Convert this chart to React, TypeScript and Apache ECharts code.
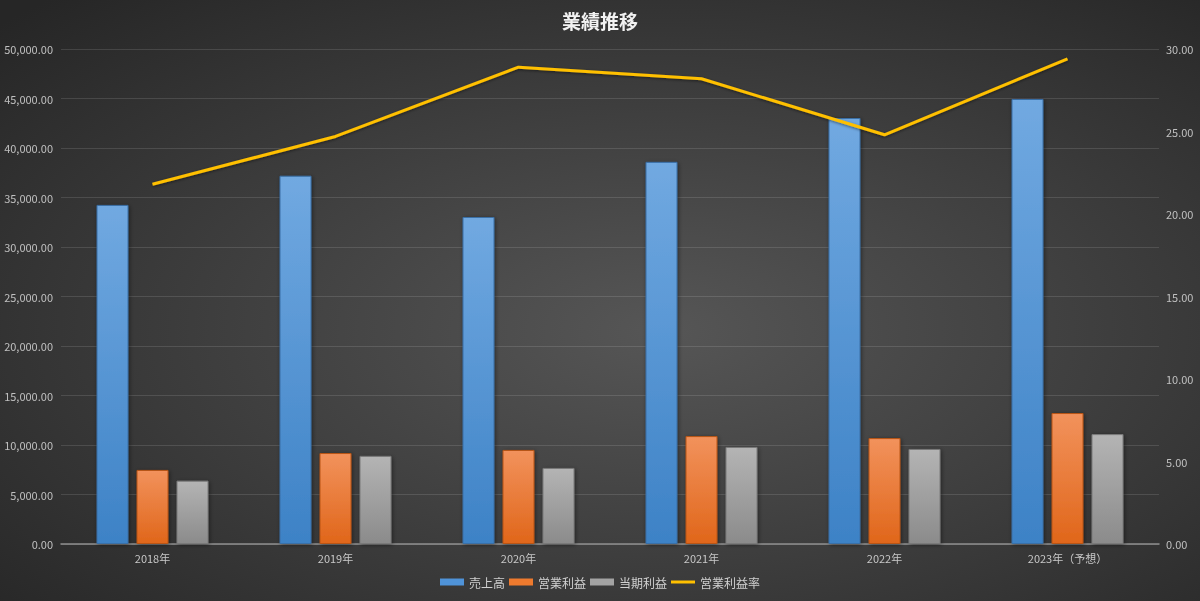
import React, { useEffect, useRef } from "react";
import * as echarts from "echarts";

const categories = ["2018年", "2019年", "2020年", "2021年", "2022年", "2023年（予想）"];
const sales = [34250, 37200, 33030, 38600, 43030, 44950];
const operatingProfit = [7480, 9190, 9500, 10900, 10700, 13230];
const netProfit = [6400, 8900, 7680, 9800, 9600, 11100];
const operatingMargin = [21.8, 24.7, 28.9, 28.2, 24.8, 29.4];

const FONT = "'Noto Sans CJK JP', 'Noto Sans', sans-serif";

function grad(top: string, bottom: string) {
  return new echarts.graphic.LinearGradient(0, 0, 0, 1, [
    { offset: 0, color: top },
    { offset: 1, color: bottom },
  ]);
}

export default function App() {
  const ref = useRef<HTMLDivElement>(null);
  useEffect(() => {
    if (!ref.current) return;
    const chart = echarts.init(ref.current, undefined, { renderer: "svg" });
    const barBase = {
      type: "bar" as const,
      barWidth: 32,
      barGap: "25%",
    };
    const legendRect = (name: string, color: string) => ({
      name,
      icon: "rect",
      itemStyle: { color, borderWidth: 0, shadowBlur: 0, shadowColor: "transparent" },
    });
    chart.setOption({
      animation: false,
      backgroundColor: new echarts.graphic.RadialGradient(0.55, 0.55, 0.75, [
        { offset: 0, color: "#565656" },
        { offset: 1, color: "#262626" },
      ]),
      title: {
        text: "業績推移",
        left: "center",
        top: 6,
        textStyle: { color: "#f2f2f2", fontSize: 19, fontWeight: "bold", fontFamily: FONT },
      },
      legend: {
        bottom: 8,
        left: "center",
        itemWidth: 24,
        itemHeight: 7,
        itemGap: 4,
        textStyle: { color: "#d0d0d0", fontSize: 12, fontFamily: FONT },
        data: [
          legendRect("売上高", "#4f93d8"),
          legendRect("営業利益", "#ee7a2e"),
          legendRect("当期利益", "#a3a3a3"),
          {
            name: "営業利益率",
            icon: "path://M0,0h24v3H0z",
            itemStyle: { color: "#ffc000", borderWidth: 0 },
          },
        ],
      },
      grid: { left: 61, right: 41, top: 49, bottom: 57 },
      xAxis: {
        type: "category",
        data: categories,
        axisTick: { show: false },
        axisLine: { lineStyle: { color: "#8f8f8f", width: 1.5 } },
        axisLabel: { color: "#c8c8c8", fontSize: 11, margin: 8, fontFamily: FONT },
      },
      yAxis: [
        {
          type: "value",
          min: 0,
          max: 50000,
          interval: 5000,
          axisLabel: {
            color: "#c0c0c0",
            fontSize: 11,
            margin: 8,
            fontFamily: FONT,
            formatter: (v: number) =>
              v.toLocaleString("en-US", { minimumFractionDigits: 2, maximumFractionDigits: 2 }),
          },
          splitLine: { lineStyle: { color: "rgba(255,255,255,0.12)", width: 1 } },
          axisLine: { show: false },
          axisTick: { show: false },
        },
        {
          type: "value",
          min: 0,
          max: 30,
          interval: 5,
          axisLabel: {
            color: "#c0c0c0",
            fontSize: 11,
            margin: 7,
            fontFamily: FONT,
            formatter: (v: number) => v.toFixed(2),
          },
          splitLine: { show: false },
          axisLine: { show: false },
          axisTick: { show: false },
        },
      ],
      series: [
        {
          ...barBase,
          name: "売上高",
          data: sales,
          itemStyle: {
            color: grad("#71a9e1", "#3d82c6"),
            borderColor: "#3a6fa6",
            borderWidth: 1,
            shadowColor: "rgba(0,0,0,0.45)",
            shadowBlur: 4,
            shadowOffsetX: 1,
            shadowOffsetY: 1,
          },
        },
        {
          ...barBase,
          name: "営業利益",
          data: operatingProfit,
          itemStyle: {
            color: grad("#f2925c", "#e0661a"),
            borderColor: "#b85515",
            borderWidth: 1,
            shadowColor: "rgba(0,0,0,0.45)",
            shadowBlur: 4,
            shadowOffsetX: 1,
            shadowOffsetY: 1,
          },
        },
        {
          ...barBase,
          name: "当期利益",
          data: netProfit,
          itemStyle: {
            color: grad("#b4b4b4", "#8b8b8b"),
            borderColor: "#7a7a7a",
            borderWidth: 1,
            shadowColor: "rgba(0,0,0,0.45)",
            shadowBlur: 4,
            shadowOffsetX: 1,
            shadowOffsetY: 1,
          },
        },
        {
          name: "営業利益率",
          type: "line",
          yAxisIndex: 1,
          data: operatingMargin,
          symbol: "none",
          itemStyle: { color: "#ffc000" },
          lineStyle: {
            color: "#ffc000",
            width: 3,
            shadowColor: "rgba(0,0,0,0.5)",
            shadowBlur: 3,
            shadowOffsetY: 1,
          },
        },
      ],
    });
    return () => chart.dispose();
  }, []);
  return (
    <div
      ref={ref}
      style={{ position: "fixed", left: 0, top: 0, width: 1200, height: 601 }}
    />
  );
}
